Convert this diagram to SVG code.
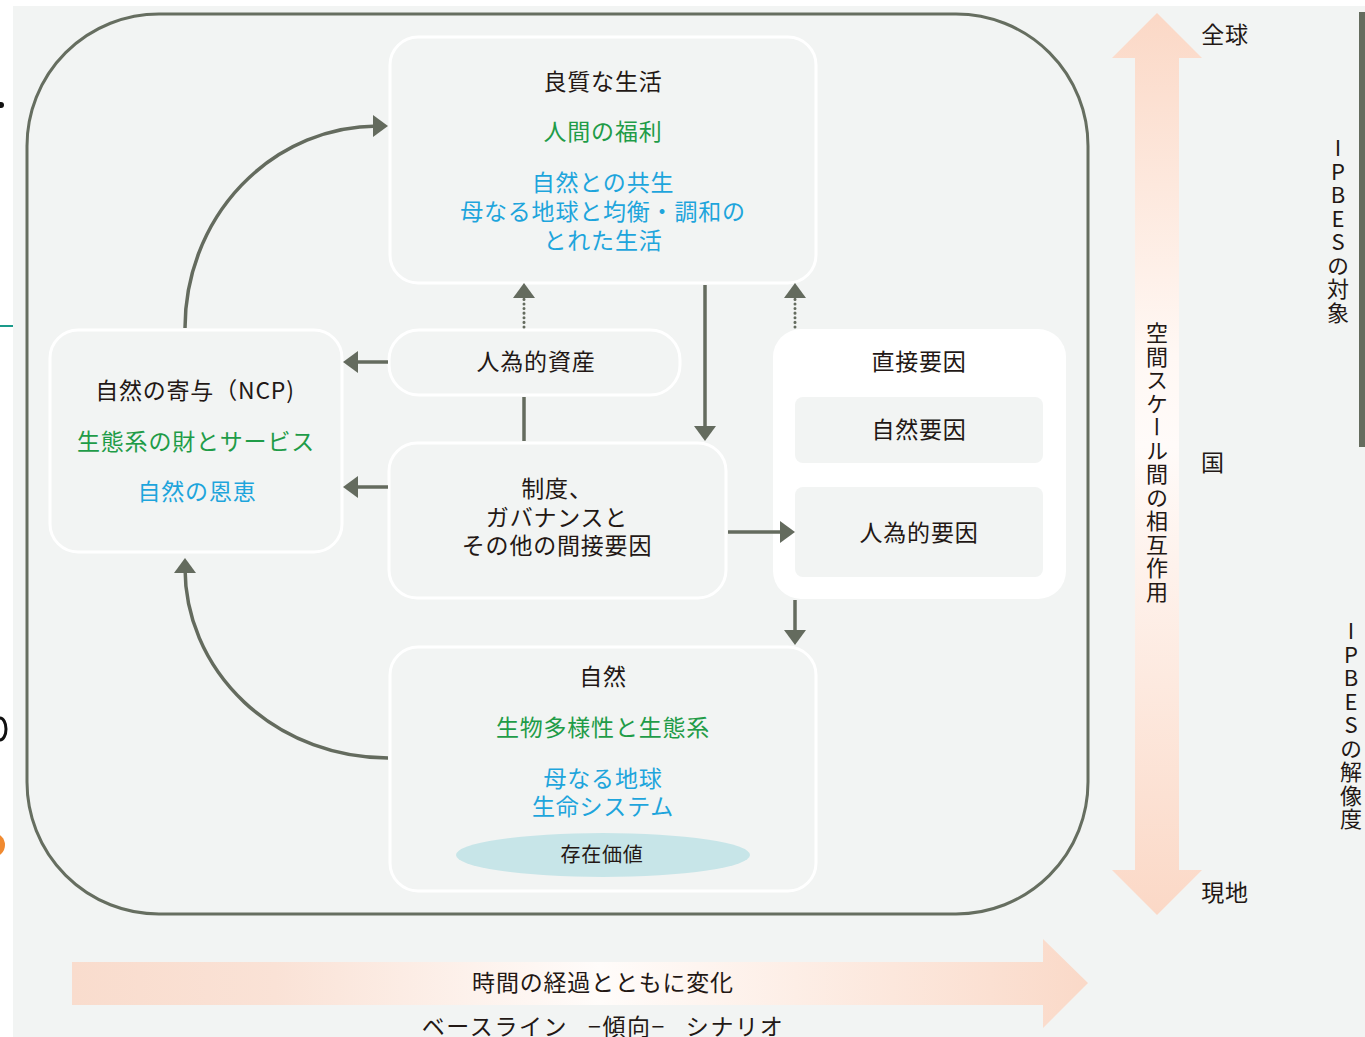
<svg xmlns="http://www.w3.org/2000/svg" width="1365" height="1037" viewBox="0 0 1365 1037">
<defs>
<style>
.t{font-family:"Noto Sans CJK JP","Noto Sans",sans-serif;font-size:23px;letter-spacing:0.8px;text-anchor:middle;dominant-baseline:central;fill:#231815}
.g{fill:#1f9c48}
.b{fill:#1ea5dc}
.box{fill:#f2f4f3;stroke:#ffffff;stroke-width:3}
.con{fill:none;stroke:#646b5e;stroke-width:3.5}
.dot{fill:none;stroke:#646b5e;stroke-width:3;stroke-linecap:round;stroke-dasharray:0.1 4.5}
.v{font-family:"Noto Sans CJK JP","Noto Sans",sans-serif;font-size:22px;letter-spacing:1.5px;fill:#231815;writing-mode:vertical-rl;text-orientation:upright}
</style>
<marker id="ah" viewBox="0 0 15 22" markerWidth="15" markerHeight="22" refX="5" refY="11" markerUnits="userSpaceOnUse" orient="auto">
<path d="M0,0 L15,11 L0,22 Z" fill="#646b5e"/>
</marker>
<linearGradient id="vg" gradientUnits="userSpaceOnUse" x1="0" y1="13" x2="0" y2="915">
<stop offset="0" stop-color="#fbd8c6"/>
<stop offset="0.38" stop-color="#fff8f4"/>
<stop offset="0.48" stop-color="#fffbf9"/>
<stop offset="1" stop-color="#fbd8c6"/>
</linearGradient>
<linearGradient id="hg" gradientUnits="userSpaceOnUse" x1="72" y1="0" x2="1088" y2="0">
<stop offset="0" stop-color="#f9dccd"/>
<stop offset="0.2" stop-color="#fae2d6"/>
<stop offset="0.52" stop-color="#fffcfa"/>
<stop offset="1" stop-color="#fad9c8"/>
</linearGradient>
</defs>

<rect x="0" y="0" width="1365" height="1037" fill="#ffffff"/>
<rect x="13" y="6" width="1352" height="1031" fill="#f2f4f3"/>
<rect x="1359" y="12" width="6" height="435" fill="#656c5e"/>

<!-- stray edge marks -->
<circle cx="1" cy="105" r="3" fill="#111"/>
<line x1="0" y1="326" x2="13" y2="326" stroke="#1a9a8a" stroke-width="2"/>
<path d="M0,718 A6,11 0 0 1 0,740" fill="none" stroke="#111" stroke-width="3"/>
<circle cx="-7" cy="845" r="12" fill="#f08a30"/>

<!-- outer frame -->
<rect x="27" y="14" width="1061" height="900" rx="132" ry="132" fill="none" stroke="#666e60" stroke-width="3"/>

<!-- scale arrow -->
<g id="space-scale">
<path d="M1135,58 H1112 L1157,13 L1202,58 H1179 V870 H1202 L1157,915 L1112,870 H1135 Z" fill="url(#vg)"/>
<text class="v" x="1157" y="322">空間スケール間の相互作用</text>
<text class="t" x="1225" y="33">全球</text>
<text class="t" x="1213" y="461">国</text>
<text class="t" x="1225" y="891">現地</text>
</g>

<g id="ipbes-labels">
<text class="v" x="1338" y="137">IPBESの対象</text>
<text class="v" x="1351" y="620">IPBESの解像度</text>
</g>

<!-- time arrow -->
<g id="time-arrow">
<path d="M72,962 H1043 V939 L1088,983 L1043,1028 V1005 H72 Z" fill="url(#hg)"/>
<text class="t" x="603" y="981">時間の経過とともに変化</text>
<text class="t" x="603" y="1025" style="letter-spacing:1.6px">ベースライン &#8194;−傾向−&#8194; シナリオ</text>
</g>

<!-- nodes -->
<g id="good-quality-of-life">
<rect class="box" x="390" y="37" width="426" height="246" rx="28"/>
<text class="t" x="603" y="80">良質な生活</text>
<text class="t g" x="603" y="130">人間の福利</text>
<text class="t b" x="603" y="181">自然との共生</text>
<text class="t b" x="603" y="210">母なる地球と均衡・調和の</text>
<text class="t b" x="603" y="239">とれた生活</text>
</g>

<g id="ncp">
<rect class="box" x="50" y="330" width="292" height="222" rx="28"/>
<text class="t" x="195" y="389">自然の寄与（NCP)</text>
<text class="t g" x="196" y="440">生態系の財とサービス</text>
<text class="t b" x="197" y="490">自然の恩恵</text>
</g>

<g id="anthropogenic-assets">
<rect class="box" x="389" y="330" width="291" height="65" rx="30"/>
<text class="t" x="536" y="360">人為的資産</text>
</g>

<g id="institutions">
<rect class="box" x="389" y="443" width="337" height="155" rx="28"/>
<text class="t" x="557" y="487">制度、</text>
<text class="t" x="557" y="516">ガバナンスと</text>
<text class="t" x="557" y="544">その他の間接要因</text>
</g>

<g id="direct-drivers">
<rect x="773" y="329" width="293" height="270" rx="28" fill="#ffffff"/>
<text class="t" x="919" y="360">直接要因</text>
<rect x="795" y="397" width="248" height="66" rx="8" fill="#f2f4f3"/>
<text class="t" x="919" y="428">自然要因</text>
<rect x="795" y="487" width="248" height="90" rx="8" fill="#f2f4f3"/>
<text class="t" x="919" y="531">人為的要因</text>
</g>

<g id="nature">
<rect class="box" x="390" y="647" width="426" height="244" rx="28"/>
<text class="t" x="603" y="675">自然</text>
<text class="t g" x="603" y="726">生物多様性と生態系</text>
<text class="t b" x="603" y="777">母なる地球</text>
<text class="t b" x="603" y="805">生命システム</text>
<ellipse cx="603" cy="855" rx="147" ry="22" fill="#c7e5e8"/>
<text class="t" x="602" y="853" style="font-size:20px">存在価値</text>
</g>

<!-- connectors -->
<g id="connectors">
<path class="con" d="M185,328 A193,202 0 0 1 378,126" marker-end="url(#ah)"/>
<path class="con" d="M388,758 A203,190 0 0 1 185,568" marker-end="url(#ah)"/>
<path class="con" d="M388,362 H353" marker-end="url(#ah)"/>
<path class="con" d="M388,487 H353" marker-end="url(#ah)"/>
<path class="con" d="M524,397 V441"/>
<path class="con" d="M705,285 V431" marker-end="url(#ah)"/>
<path class="dot" d="M524,327 V295"/>
<path class="con" d="M524,294 V293" style="stroke:none" marker-end="url(#ah)"/>
<path class="dot" d="M795,327 V295"/>
<path class="con" d="M795,294 V293" style="stroke:none" marker-end="url(#ah)"/>
<path class="con" d="M728,532 H785" marker-end="url(#ah)"/>
<path class="con" d="M795,600 V635" marker-end="url(#ah)"/>
</g>
</svg>
